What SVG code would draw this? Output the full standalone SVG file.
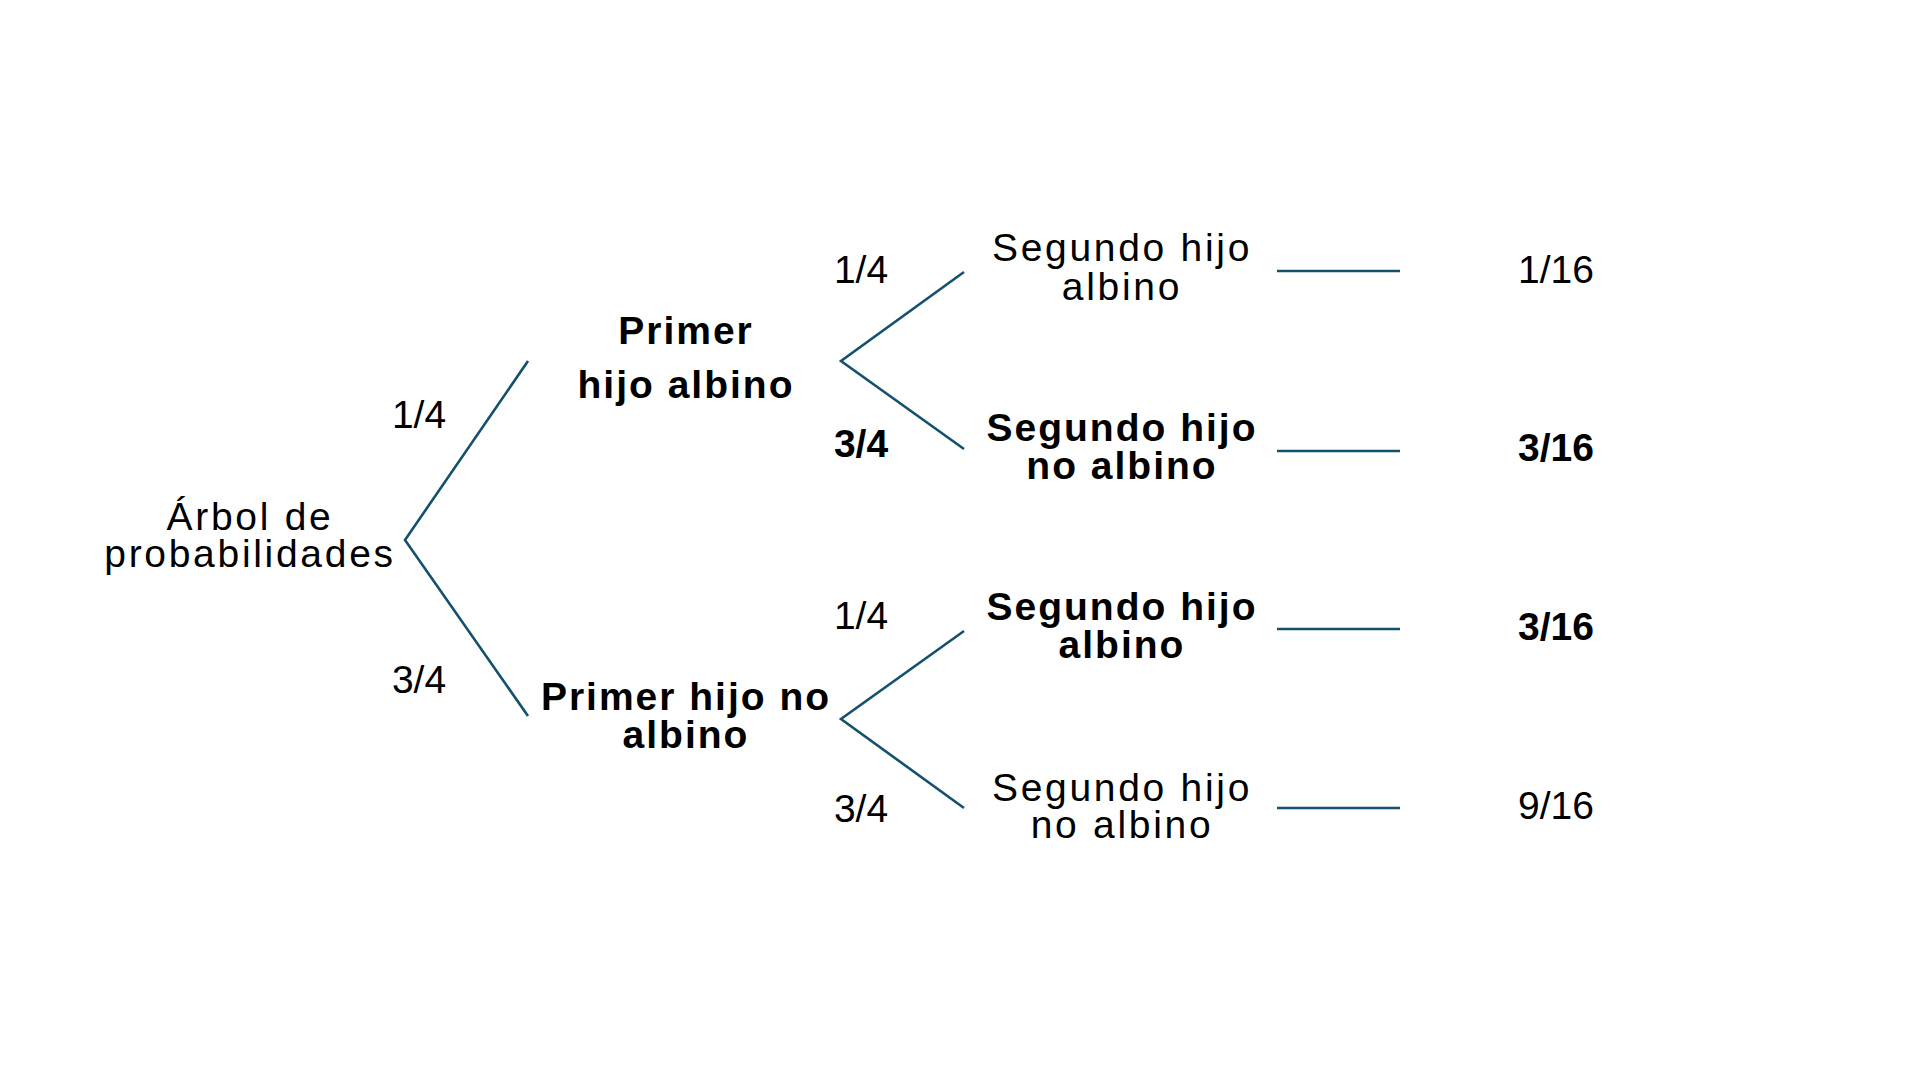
<svg xmlns="http://www.w3.org/2000/svg" width="1920" height="1080" viewBox="0 0 1920 1080">
<style>
text{font-family:"Liberation Sans",Arial,sans-serif;font-size:39px;fill:#000;text-anchor:middle}
.r{letter-spacing:2.7px}
.b{font-weight:bold;letter-spacing:2px}
.n{letter-spacing:0}
.nb{font-weight:bold;letter-spacing:0}
.c line,.c polyline{stroke:#15506e;stroke-width:2.6;fill:none}
</style>
<rect width="1920" height="1080" fill="#fff"/>
<g class="c" id="connectors">
<polyline points="528,361 405,540 528,716"/>
<polyline points="964,272 841,361 964,449"/>
<polyline points="964,631 841,719 964,808"/>
<line x1="1277" y1="271" x2="1400" y2="271"/>
<line x1="1277" y1="451" x2="1400" y2="451"/>
<line x1="1277" y1="629" x2="1400" y2="629"/>
<line x1="1277" y1="808" x2="1400" y2="808"/>
</g>
<g id="edge-labels">
<text class="n" x="419" y="428">1/4</text>
<text class="n" x="419" y="693">3/4</text>
<text class="n" x="861" y="283">1/4</text>
<text class="nb" x="861" y="457">3/4</text>
<text class="n" x="861" y="629">1/4</text>
<text class="n" x="861" y="822">3/4</text>
</g>
<g id="root"><text class="r" x="250" y="530">Árbol de</text><text class="r" x="250" y="567">probabilidades</text></g>
<g id="first-albino"><text class="b" x="686" y="344">Primer</text><text class="b" x="686" y="398">hijo albino</text></g>
<g id="first-no-albino"><text class="b" x="686" y="710">Primer hijo no</text><text class="b" x="686" y="748">albino</text></g>
<g id="second-1"><text class="r" x="1122" y="261">Segundo hijo</text><text class="r" x="1122" y="300">albino</text></g>
<g id="second-2"><text class="b" x="1122" y="441">Segundo hijo</text><text class="b" x="1122" y="479">no albino</text></g>
<g id="second-3"><text class="b" x="1122" y="620">Segundo hijo</text><text class="b" x="1122" y="658">albino</text></g>
<g id="second-4"><text class="r" x="1122" y="801">Segundo hijo</text><text class="r" x="1122" y="838">no albino</text></g>
<g id="result-1"><text class="n" x="1556" y="283">1/16</text></g>
<g id="result-2"><text class="nb" x="1556" y="461">3/16</text></g>
<g id="result-3"><text class="nb" x="1556" y="640">3/16</text></g>
<g id="result-4"><text class="n" x="1556" y="819">9/16</text></g>
</svg>
